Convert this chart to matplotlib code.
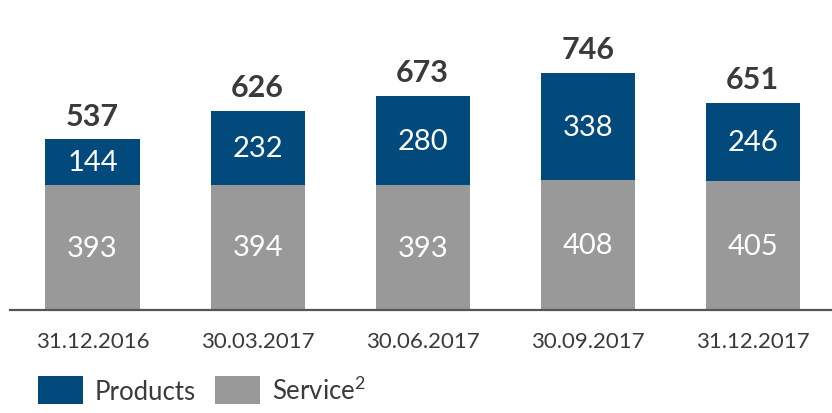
import numpy as np
import matplotlib.pyplot as plt

plt.rcParams['font.family'] = ['Lato', 'DejaVu Sans']
plt.rcParams['mathtext.fontset'] = 'custom'
plt.rcParams['mathtext.rm'] = 'Lato'

dates = ['31.12.2016', '30.03.2017', '30.06.2017', '30.09.2017', '31.12.2017']
service = [393, 394, 393, 408, 405]
products = [144, 232, 280, 338, 246]
totals = [537, 626, 673, 746, 651]

blue = '#034a7c'
grey = '#999999'
txt = '#3a3a3a'

fig = plt.figure(figsize=(8.32, 4.14), dpi=100)
ax = fig.add_axes([10 / 832, 1 - 311 / 414, 1 - 10 / 832, 311 / 414])

x = np.arange(len(dates))
w = 0.57
ax.bar(x, service, w, color=grey, label=r'Service$^\mathrm{2}$')
ax.bar(x, products, w, bottom=service, color=blue, label='Products')

for i in x:
    ax.text(i, service[i] / 2, str(service[i]), ha='center', va='center',
            color='white', fontsize=21)
    ax.text(i, service[i] + products[i] / 2, str(products[i]), ha='center',
            va='center', color='white', fontsize=21)
    ax.annotate(str(totals[i]), (i, totals[i]), xytext=(0, 7),
                textcoords='offset points', ha='center', va='bottom',
                color=txt, fontsize=22, fontweight='bold')

ax.set_xlim(-0.5, 4.48)
ax.set_ylim(0, 978)
ax.set_yticks([])
ax.set_xticks(x, dates)
ax.tick_params(axis='x', length=0, pad=15, labelsize=16, labelcolor=txt)
for s in ['top', 'right', 'left']:
    ax.spines[s].set_visible(False)
ax.spines['bottom'].set_color('#555555')
ax.spines['bottom'].set_linewidth(1.6)

h, l = ax.get_legend_handles_labels()
fig.legend(h[::-1], l[::-1], loc='lower left', bbox_to_anchor=(0.018, -0.035),
           ncol=2, frameon=False, fontsize=18.5, handlelength=1.75,
           handleheight=1.3, handletextpad=0.45, columnspacing=0.75,
           labelcolor=txt)

fig.savefig('out.png', dpi=100)
